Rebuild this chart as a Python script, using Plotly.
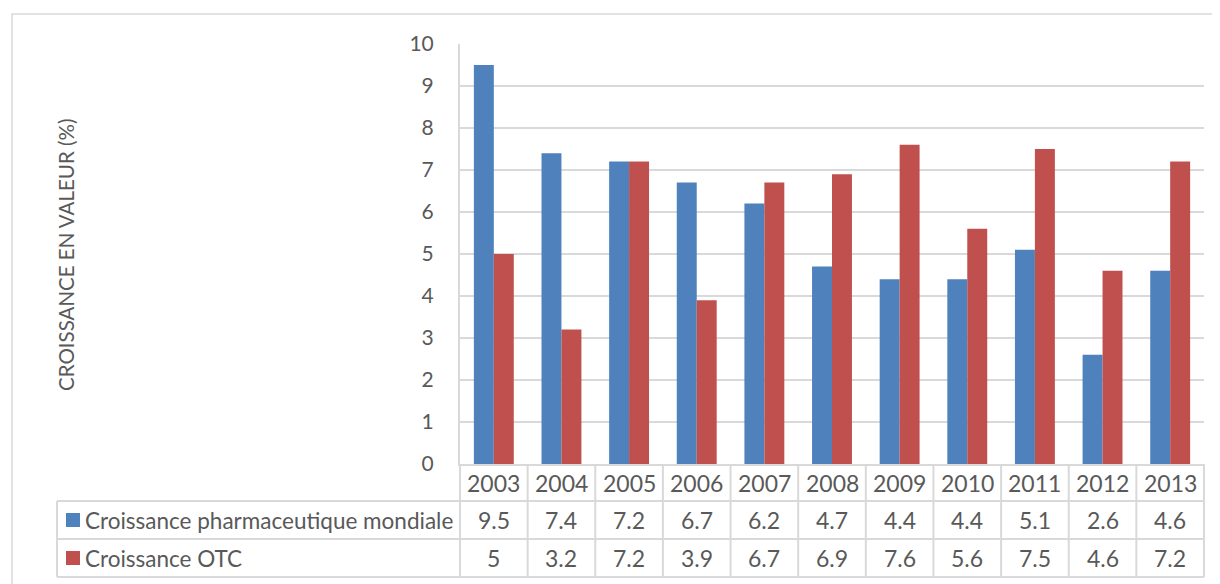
import plotly.graph_objects as go

years = ["2003", "2004", "2005", "2006", "2007", "2008", "2009", "2010", "2011", "2012", "2013"]
pharma = [9.5, 7.4, 7.2, 6.7, 6.2, 4.7, 4.4, 4.4, 5.1, 2.6, 4.6]
otc = [5, 3.2, 7.2, 3.9, 6.7, 6.9, 7.6, 5.6, 7.5, 4.6, 7.2]
series_names = ["Croissance pharmaceutique mondiale", "Croissance OTC"]
colors = ["#4f81bd", "#c0504d"]
y_title = "CROISSANCE EN VALEUR (%)"

OFF = 8  # default page body margin
W, H = 1220 - OFF, 584 - OFF
PLOT_X0, PLOT_Y0 = 460, 44        # screen position of plot area
PW, PH = 744, 420
L, T = PLOT_X0 - OFF, PLOT_Y0 - OFF
R, B = W - L - PW, H - T - PH
FONT = "Lato"
GREY = "#595959"
LINE = "#d9d9d9"


def px(x):
    return (x - PLOT_X0) / PW


def py(y):
    return (PLOT_Y0 + PH - y) / PH


fig = go.Figure()
for name, vals, col in zip(series_names, [pharma, otc], colors):
    fig.add_trace(go.Bar(x=years, y=vals, name=name, marker_color=col,
                         marker_line_width=0))

fig.update_layout(
    width=W, height=H,
    margin=dict(l=L, r=R, t=T, b=B),
    paper_bgcolor="white", plot_bgcolor="white",
    barmode="group", bargap=0.41, bargroupgap=0,
    showlegend=False,
    font=dict(family=FONT, color=GREY, size=18),
)
fig.update_xaxes(type="category", showticklabels=False, showgrid=False,
                 showline=True, linecolor=LINE, linewidth=2, zeroline=False,
                 range=[-0.5, len(years) - 0.5])
fig.update_yaxes(range=[0, 10], dtick=1, showgrid=True, gridcolor=LINE, gridwidth=2,
                 showline=True, linecolor=LINE, linewidth=2, zeroline=False,
                 ticks="", ticklabelstandoff=20,
                 tickfont=dict(family=FONT, size=21, color=GREY))

shapes = []
# outer chart border
shapes.append(dict(type="rect", xref="paper", yref="paper",
                   x0=px(12), x1=px(1240), y0=py(14), y1=py(620),
                   line=dict(color=LINE, width=1.5)))
# table horizontal lines
for yy in [501, 539, 577]:
    shapes.append(dict(type="line", xref="paper", yref="paper",
                       x0=px(57), x1=1, y0=py(yy), y1=py(yy),
                       line=dict(color=LINE, width=2)))
# table vertical lines
n = len(years)
for k in range(n + 1):
    shapes.append(dict(type="line", xref="paper", yref="paper",
                       x0=k / n, x1=k / n, y0=0, y1=py(577),
                       line=dict(color=LINE, width=2)))
shapes.append(dict(type="line", xref="paper", yref="paper",
                   x0=px(57), x1=px(57), y0=py(501), y1=py(577),
                   line=dict(color=LINE, width=2)))

annotations = []
row_centers = [482.5, 520, 558]
base = PLOT_Y0 + PH
TFS = 23
for i, yr in enumerate(years):
    annotations.append(dict(x=i, xref="x", y=0, yref="paper", yshift=-(row_centers[0] - base),
                            text=yr, showarrow=False, xanchor="center", yanchor="middle",
                            font=dict(family=FONT, size=TFS, color=GREY)))
for r, (name, vals, col) in enumerate(zip(series_names, [pharma, otc], colors)):
    cy = row_centers[r + 1]
    for i, v in enumerate(vals):
        annotations.append(dict(x=i, xref="x", y=0, yref="paper", yshift=-(cy - base),
                                text=f"{v:g}", showarrow=False, xanchor="center", yanchor="middle",
                                font=dict(family=FONT, size=TFS, color=GREY)))
    shapes.append(dict(type="rect", xref="paper", yref="paper",
                       x0=px(66), x1=px(80), y0=py(cy - 7), y1=py(cy + 7),
                       fillcolor=col, line=dict(width=0)))
    annotations.append(dict(x=px(83), xref="paper", y=py(cy), yref="paper",
                            text=name, showarrow=False, xanchor="left", yanchor="middle",
                            font=dict(family=FONT, size=22.5, color=GREY)))

annotations.append(dict(x=px(66), xref="paper", y=py(255), yref="paper", text=y_title,
                        textangle=-90, showarrow=False, xanchor="center", yanchor="middle",
                        font=dict(family=FONT, size=20.5, color=GREY)))

fig.update_layout(shapes=shapes, annotations=annotations)
fig.write_html("out.html")
